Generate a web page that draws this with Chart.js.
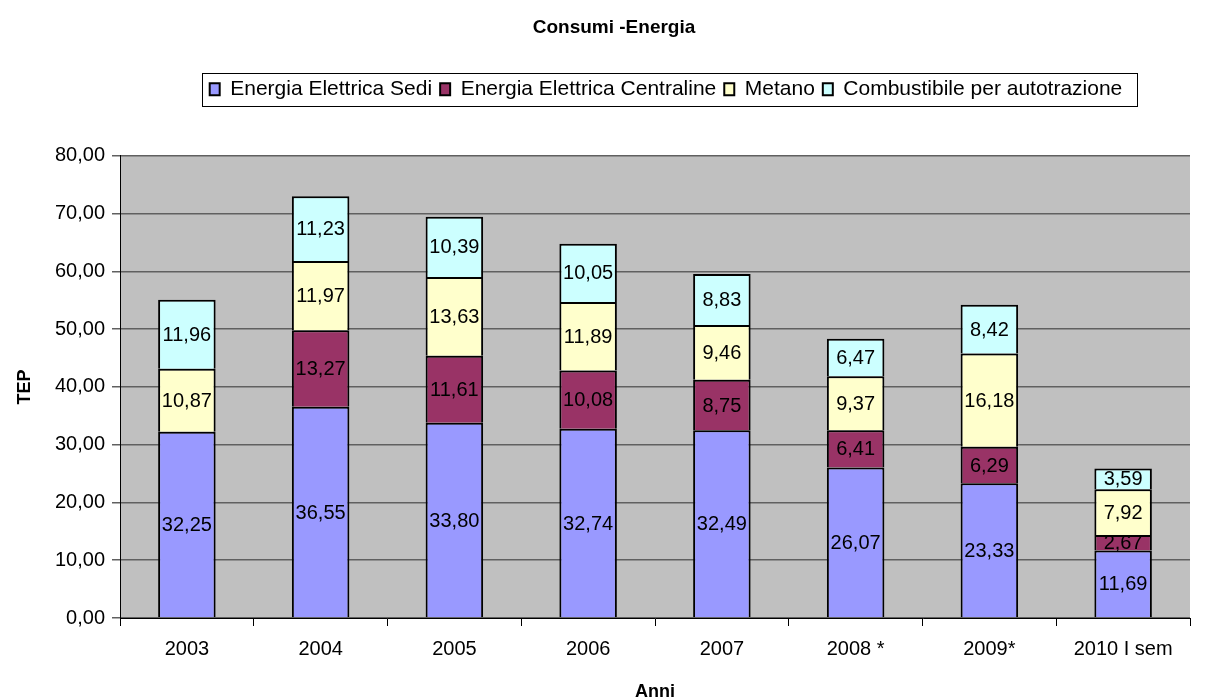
<!DOCTYPE html>
<html>
<head>
<meta charset="utf-8">
<script src="https://cdn.jsdelivr.net/npm/chart.js@4.4.0/dist/chart.umd.min.js"></script>
<style>
  html, body { margin: 0; padding: 0; background: #ffffff; }
  #wrap { width: 1218px; height: 699px; }
</style>
</head>
<body>
<div id="wrap"><canvas id="graph" width="1218" height="699"></canvas></div>
<script>
// data
var anni = ["2003", "2004", "2005", "2006", "2007", "2008 *", "2009*", "2010 I sem"]
var sedi = [32.25, 36.55, 33.80, 32.74, 32.49, 26.07, 23.33, 11.69]
var centraline = [null, 13.27, 11.61, 10.08, 8.75, 6.41, 6.29, 2.67]
var metano = [10.87, 11.97, 13.63, 11.89, 9.46, 9.37, 16.18, 7.92]
var combustibile = [11.96, 11.23, 10.39, 10.05, 8.83, 6.47, 8.42, 3.59]

function virgola(v) {
    return v.toFixed(2).replace(".", ",")
}

var font = "'Liberation Sans', Arial, sans-serif"

// in the original the title and legend sit a bit right of the canvas centre
var spostaLegenda = 66
var spostaTitolo = 14

// grey background of the plot area
var sfondo = {
    id: "sfondo",
    beforeDraw: function (chart) {
        var a = chart.chartArea
        var ctx = chart.ctx
        ctx.save()
        ctx.fillStyle = "#c0c0c0"
        ctx.fillRect(a.left, a.top, a.right - a.left, a.bottom - a.top)
        ctx.restore()
    }
}

// values written inside every bar piece
var etichette = {
    id: "etichette",
    afterDatasetsDraw: function (chart) {
        var ctx = chart.ctx
        ctx.save()
        ctx.font = "20px " + font
        ctx.fillStyle = "#000"
        ctx.textAlign = "center"
        ctx.textBaseline = "middle"
        chart.data.datasets.forEach(function (ds, i) {
            var meta = chart.getDatasetMeta(i)
            meta.data.forEach(function (bar, j) {
                var v = ds.data[j]
                if (!v) return
                ctx.fillText(virgola(v), bar.x, (bar.y + bar.base) / 2 + 1)
            })
        })
        ctx.restore()
    }
}

// frame round the legend
var cornice = {
    id: "cornice",
    afterDraw: function (chart) {
        var lg = chart.legend
        if (!lg || !lg.legendHitBoxes.length) return
        var l = Infinity, r = -Infinity, t = Infinity, b = -Infinity
        lg.legendHitBoxes.forEach(function (h) {
            l = Math.min(l, h.left); r = Math.max(r, h.left + h.width)
            t = Math.min(t, h.top); b = Math.max(b, h.top + h.height)
        })
        l += spostaLegenda
        r += spostaLegenda
        var ctx = chart.ctx
        ctx.save()
        ctx.strokeStyle = "#000"
        ctx.lineWidth = 1
        ctx.strokeRect(Math.round(l - 8) + 0.5, Math.round(t - 6) + 0.5, Math.round(r - l + 22), Math.round(b - t + 12))
        ctx.restore()
    }
}

function sposta(box, dx) {
    var draw = box.draw
    box.draw = function () {
        var ctx = this.ctx
        ctx.save()
        ctx.translate(dx, 0)
        draw.apply(this, arguments)
        ctx.restore()
    }
}

// extra room under the legend, and the shifts
var spazio = {
    id: "spazio",
    beforeInit: function (chart) {
        var fit = chart.legend.fit
        chart.legend.fit = function () {
            fit.bind(chart.legend)()
            this.height += 46
        }
        sposta(chart.legend, spostaLegenda)
        sposta(chart.titleBlock, spostaTitolo)
    }
}

var stile = { borderColor: "#000", borderWidth: 2, borderSkipped: "start" }

var data = {
    labels: anni,
    datasets: [
        Object.assign({ label: "Energia Elettrica Sedi", data: sedi, backgroundColor: "#9999ff" }, stile),
        Object.assign({ label: "Energia Elettrica Centraline", data: centraline, backgroundColor: "#993366" }, stile),
        Object.assign({ label: "Metano", data: metano, backgroundColor: "#ffffcc" }, stile),
        Object.assign({ label: "Combustibile per autotrazione", data: combustibile, backgroundColor: "#ccffff" }, stile)
    ]
}

var options = {
    responsive: false,
    animation: false,
    layout: { padding: { left: 10, right: 28, top: 0, bottom: 0 } },
    datasets: { bar: { categoryPercentage: 1, barPercentage: 0.43 } },
    plugins: {
        title: {
            display: true,
            text: "Consumi -Energia",
            color: "#000",
            font: { family: font, size: 19, weight: "bold" },
            padding: { top: 16, bottom: 32 }
        },
        legend: {
            position: "top",
            labels: {
                color: "#000",
                font: { family: font, size: 21 },
                boxWidth: 10,
                boxHeight: 12,
                padding: 8,
                useBorderRadius: false
            }
        },
        tooltip: { enabled: false }
    },
    scales: {
        x: {
            stacked: true,
            grid: { display: true, drawOnChartArea: false, offset: true, color: "#000", tickLength: 8 },
            border: { color: "#000" },
            ticks: { color: "#000", font: { family: font, size: 20 }, padding: 11, maxRotation: 0 },
            title: { display: true, text: "Anni", color: "#000", font: { family: font, size: 18, weight: "bold", lineHeight: 1 }, padding: { top: 4, bottom: -2 } },
            afterFit: function (scale) { scale.height = 81 }
        },
        y: {
            stacked: true,
            min: 0,
            max: 80,
            grid: { color: "#606060", tickLength: 8, lineWidth: 1.5 },
            border: { color: "#000" },
            ticks: {
                stepSize: 10,
                color: "#000",
                font: { family: font, size: 20 },
                padding: 7,
                callback: function (v) { return virgola(v) }
            },
            title: { display: true, text: "TEP", color: "#000", font: { family: font, size: 18, weight: "bold" }, padding: 4 },
            afterFit: function (scale) { scale.width = 110 }
        }
    }
}

var graph = new Chart(document.getElementById("graph"), {
    type: "bar",
    data: data,
    options: options,
    plugins: [sfondo, etichette, cornice, spazio]
})
</script>
</body>
</html>
